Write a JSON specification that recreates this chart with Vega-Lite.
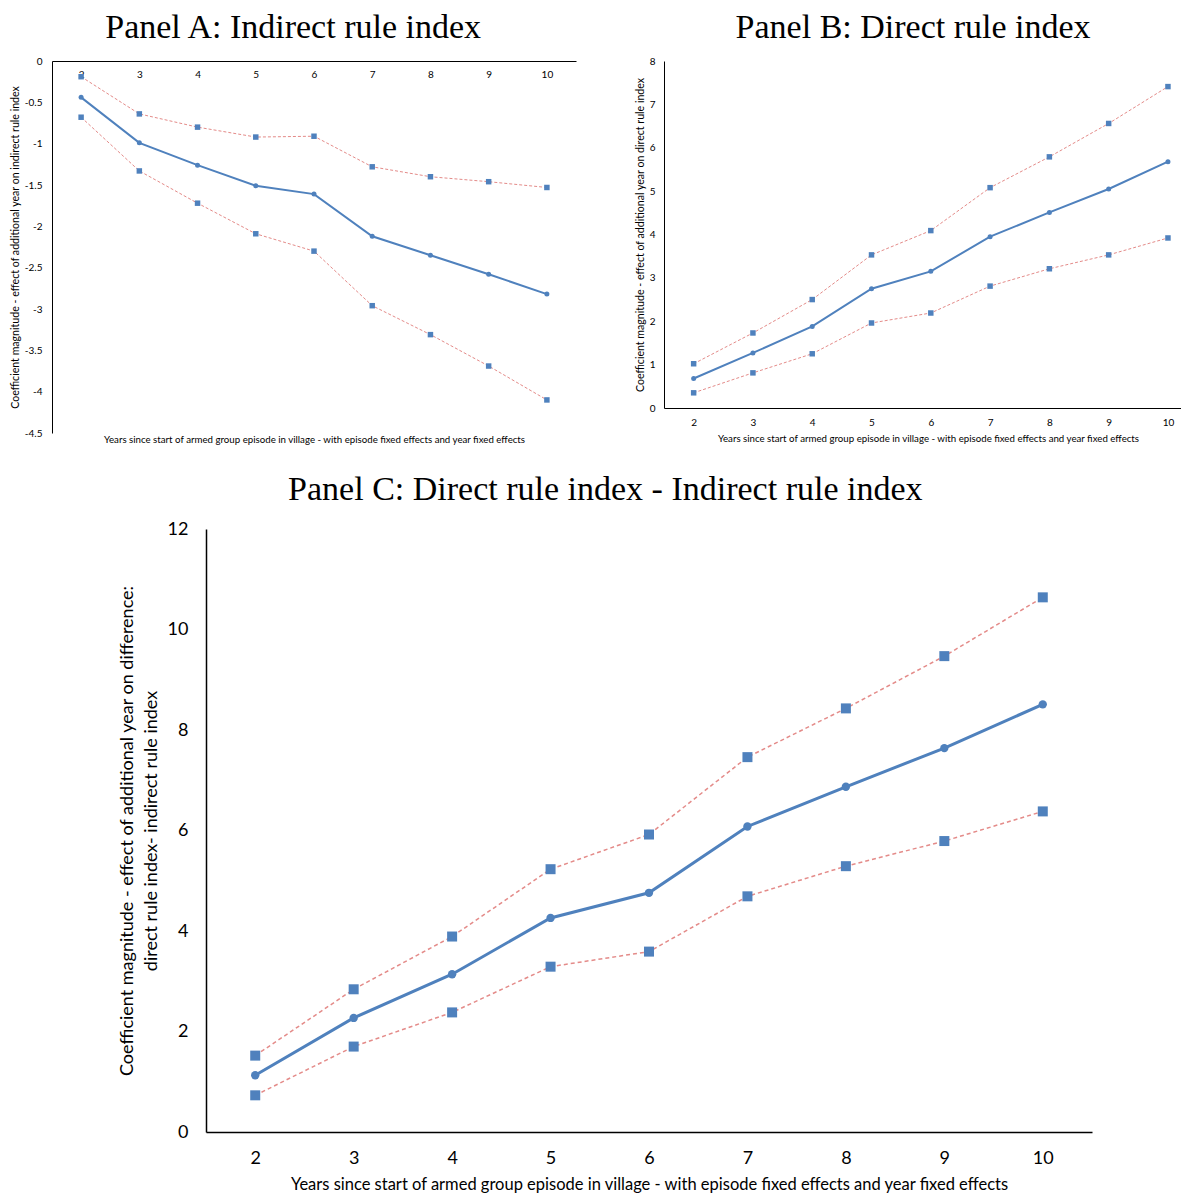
{
  "$schema": "https://vega.github.io/schema/vega-lite/v6.json",
  "background": "white",
  "padding": {"left": 10, "top": 11, "right": 0, "bottom": 0},
  "config": {
    "view": {"stroke": null},
    "axis": {"grid": false, "ticks": false, "domainColor": "#000000", "domainWidth": 1, "labelFont": "Lato", "titleFont": "Lato", "labelColor": "#000000", "titleColor": "#000000", "titleFontWeight": "normal", "labelFlush": false},
    "title": {"font": "Liberation Serif", "fontSize": 34, "fontWeight": "normal", "color": "#000000", "frame": "bounds", "anchor": "middle"}
  },
  "datasets": {
    "A": [
      {"x": 2, "s": "hi", "v": -0.19}, {"x": 2, "s": "est", "v": -0.44}, {"x": 2, "s": "lo", "v": -0.68},
      {"x": 3, "s": "hi", "v": -0.64}, {"x": 3, "s": "est", "v": -0.99}, {"x": 3, "s": "lo", "v": -1.33},
      {"x": 4, "s": "hi", "v": -0.80}, {"x": 4, "s": "est", "v": -1.26}, {"x": 4, "s": "lo", "v": -1.72},
      {"x": 5, "s": "hi", "v": -0.92}, {"x": 5, "s": "est", "v": -1.51}, {"x": 5, "s": "lo", "v": -2.09},
      {"x": 6, "s": "hi", "v": -0.91}, {"x": 6, "s": "est", "v": -1.61}, {"x": 6, "s": "lo", "v": -2.30},
      {"x": 7, "s": "hi", "v": -1.28}, {"x": 7, "s": "est", "v": -2.12}, {"x": 7, "s": "lo", "v": -2.96},
      {"x": 8, "s": "hi", "v": -1.40}, {"x": 8, "s": "est", "v": -2.35}, {"x": 8, "s": "lo", "v": -3.31},
      {"x": 9, "s": "hi", "v": -1.46}, {"x": 9, "s": "est", "v": -2.58}, {"x": 9, "s": "lo", "v": -3.69},
      {"x": 10, "s": "hi", "v": -1.53}, {"x": 10, "s": "est", "v": -2.82}, {"x": 10, "s": "lo", "v": -4.10}
    ],
    "B": [
      {"x": 2, "s": "hi", "v": 1.02}, {"x": 2, "s": "est", "v": 0.68}, {"x": 2, "s": "lo", "v": 0.35},
      {"x": 3, "s": "hi", "v": 1.73}, {"x": 3, "s": "est", "v": 1.27}, {"x": 3, "s": "lo", "v": 0.81},
      {"x": 4, "s": "hi", "v": 2.50}, {"x": 4, "s": "est", "v": 1.88}, {"x": 4, "s": "lo", "v": 1.25},
      {"x": 5, "s": "hi", "v": 3.53}, {"x": 5, "s": "est", "v": 2.75}, {"x": 5, "s": "lo", "v": 1.96},
      {"x": 6, "s": "hi", "v": 4.09}, {"x": 6, "s": "est", "v": 3.15}, {"x": 6, "s": "lo", "v": 2.19},
      {"x": 7, "s": "hi", "v": 5.08}, {"x": 7, "s": "est", "v": 3.95}, {"x": 7, "s": "lo", "v": 2.81},
      {"x": 8, "s": "hi", "v": 5.79}, {"x": 8, "s": "est", "v": 4.51}, {"x": 8, "s": "lo", "v": 3.21},
      {"x": 9, "s": "hi", "v": 6.56}, {"x": 9, "s": "est", "v": 5.05}, {"x": 9, "s": "lo", "v": 3.53},
      {"x": 10, "s": "hi", "v": 7.41}, {"x": 10, "s": "est", "v": 5.68}, {"x": 10, "s": "lo", "v": 3.92}
    ],
    "C": [
      {"x": 2, "s": "hi", "v": 1.52}, {"x": 2, "s": "est", "v": 1.13}, {"x": 2, "s": "lo", "v": 0.73},
      {"x": 3, "s": "hi", "v": 2.84}, {"x": 3, "s": "est", "v": 2.27}, {"x": 3, "s": "lo", "v": 1.70},
      {"x": 4, "s": "hi", "v": 3.89}, {"x": 4, "s": "est", "v": 3.14}, {"x": 4, "s": "lo", "v": 2.38},
      {"x": 5, "s": "hi", "v": 5.23}, {"x": 5, "s": "est", "v": 4.26}, {"x": 5, "s": "lo", "v": 3.29},
      {"x": 6, "s": "hi", "v": 5.92}, {"x": 6, "s": "est", "v": 4.76}, {"x": 6, "s": "lo", "v": 3.59},
      {"x": 7, "s": "hi", "v": 7.46}, {"x": 7, "s": "est", "v": 6.08}, {"x": 7, "s": "lo", "v": 4.69},
      {"x": 8, "s": "hi", "v": 8.43}, {"x": 8, "s": "est", "v": 6.87}, {"x": 8, "s": "lo", "v": 5.29},
      {"x": 9, "s": "hi", "v": 9.47}, {"x": 9, "s": "est", "v": 7.64}, {"x": 9, "s": "lo", "v": 5.79},
      {"x": 10, "s": "hi", "v": 10.64}, {"x": 10, "s": "est", "v": 8.51}, {"x": 10, "s": "lo", "v": 6.38}
    ]
  },
  "spacing": 29,
  "vconcat": [
    {
      "spacing": 59,
      "hconcat": [
        {
          "title": {"text": "Panel A: Indirect rule index", "offset": 11},
          "width": 524,
          "height": 372,
          "data": {"name": "A"},
          "encoding": {
            "x": {"field": "x", "type": "quantitative", "scale": {"domain": [1.5, 10.5], "nice": false, "zero": false},
              "axis": {"orient": "bottom", "offset": -372, "values": [2, 3, 4, 5, 6, 7, 8, 9, 10], "format": "d", "labelFontSize": 10, "labelPadding": 8,
                "title": "Years since start of armed group episode in village - with episode fixed effects and year fixed effects", "titleFontSize": 9.7, "titleY": 373, "titleBaseline": "top"}},
            "y": {"field": "v", "type": "quantitative", "scale": {"domain": [-4.5, 0], "nice": false, "zero": false},
              "axis": {"values": [-4.5, -4, -3.5, -3, -2.5, -2, -1.5, -1, -0.5, 0], "labelExpr": "'' + datum.value", "labelFontSize": 10, "labelPadding": 10,
                "title": "Coefficient magnitude - effect of additional year on indirect rule  index", "titleFontSize": 10.6, "titlePadding": 4}}
          },
          "layer": [
            {"transform": [{"filter": "datum.s != 'est'"}], "mark": {"type": "line", "color": "#E48B89", "strokeWidth": 1, "strokeDash": [3, 2]}, "encoding": {"detail": {"field": "s"}}},
            {"transform": [{"filter": "datum.s != 'est'"}], "mark": {"type": "square", "color": "#4F81BD", "opacity": 1, "size": 30}, "encoding": {}},
            {"transform": [{"filter": "datum.s == 'est'"}], "mark": {"type": "line", "color": "#4F81BD", "strokeWidth": 2}, "encoding": {}},
            {"transform": [{"filter": "datum.s == 'est'"}], "mark": {"type": "circle", "color": "#4F81BD", "opacity": 1, "size": 25}, "encoding": {}}
          ]
        },
        {
          "title": {"text": "Panel B: Direct rule index", "offset": 11, "dx": 5},
          "width": 517,
          "height": 347,
          "data": {"name": "B"},
          "encoding": {
            "x": {"field": "x", "type": "quantitative", "scale": {"domain": [1.5, 10.22], "nice": false, "zero": false},
              "axis": {"values": [2, 3, 4, 5, 6, 7, 8, 9, 10], "format": "d", "labelFontSize": 10, "labelPadding": 9,
                "title": "Years since start of armed group episode in village - with episode fixed effects and year fixed effects", "titleFontSize": 9.7, "titlePadding": 6, "titleX": 264}},
            "y": {"field": "v", "type": "quantitative", "scale": {"domain": [0, 8], "nice": false, "zero": false},
              "axis": {"values": [0, 1, 2, 3, 4, 5, 6, 7, 8], "labelFontSize": 10, "labelPadding": 9,
                "title": "Coefficient magnitude - effect of additional year on direct rule  index", "titleFontSize": 10.6, "titlePadding": 4}}
          },
          "layer": [
            {"transform": [{"filter": "datum.s != 'est'"}], "mark": {"type": "line", "color": "#E48B89", "strokeWidth": 1, "strokeDash": [3, 2]}, "encoding": {"detail": {"field": "s"}}},
            {"transform": [{"filter": "datum.s != 'est'"}], "mark": {"type": "square", "color": "#4F81BD", "opacity": 1, "size": 30}, "encoding": {}},
            {"transform": [{"filter": "datum.s == 'est'"}], "mark": {"type": "line", "color": "#4F81BD", "strokeWidth": 2}, "encoding": {}},
            {"transform": [{"filter": "datum.s == 'est'"}], "mark": {"type": "circle", "color": "#4F81BD", "opacity": 1, "size": 25}, "encoding": {}}
          ]
        }
      ]
    },
    {
      "spacing": 65,
      "hconcat": [
        {"width": 1, "height": 1, "data": {"values": []}, "mark": "point"},
        {
          "title": {"text": "Panel C: Direct rule index - Indirect rule index", "offset": 13},
          "width": 886,
          "height": 603,
          "data": {"name": "C"},
          "encoding": {
            "x": {"field": "x", "type": "quantitative", "scale": {"domain": [1.5, 10.5], "nice": false, "zero": false},
              "axis": {"values": [2, 3, 4, 5, 6, 7, 8, 9, 10], "format": "d", "labelFontSize": 18, "labelPadding": 17, "domainWidth": 1.5,
                "title": "Years since start of armed group episode in village - with episode fixed effects and year fixed effects", "titleFontSize": 16.5, "titlePadding": 9}},
            "y": {"field": "v", "type": "quantitative", "scale": {"domain": [0, 12], "nice": false, "zero": false},
              "axis": {"values": [0, 2, 4, 6, 8, 10, 12], "labelFontSize": 18, "labelPadding": 18, "domainWidth": 1.5,
                "title": ["Coefficient magnitude - effect of additional year on difference:", "direct rule index- indirect rule index"], "titleFontSize": 18, "titleLineHeight": 24, "titlePadding": 6.5}}
          },
          "layer": [
            {"transform": [{"filter": "datum.s != 'est'"}], "mark": {"type": "line", "color": "#E48B89", "strokeWidth": 1.5, "strokeDash": [4, 3]}, "encoding": {"detail": {"field": "s"}}},
            {"transform": [{"filter": "datum.s != 'est'"}], "mark": {"type": "square", "color": "#4F81BD", "opacity": 1, "size": 100}, "encoding": {}},
            {"transform": [{"filter": "datum.s == 'est'"}], "mark": {"type": "line", "color": "#4F81BD", "strokeWidth": 3}, "encoding": {}},
            {"transform": [{"filter": "datum.s == 'est'"}], "mark": {"type": "circle", "color": "#4F81BD", "opacity": 1, "size": 70}, "encoding": {}}
          ]
        }
      ]
    }
  ]
}
